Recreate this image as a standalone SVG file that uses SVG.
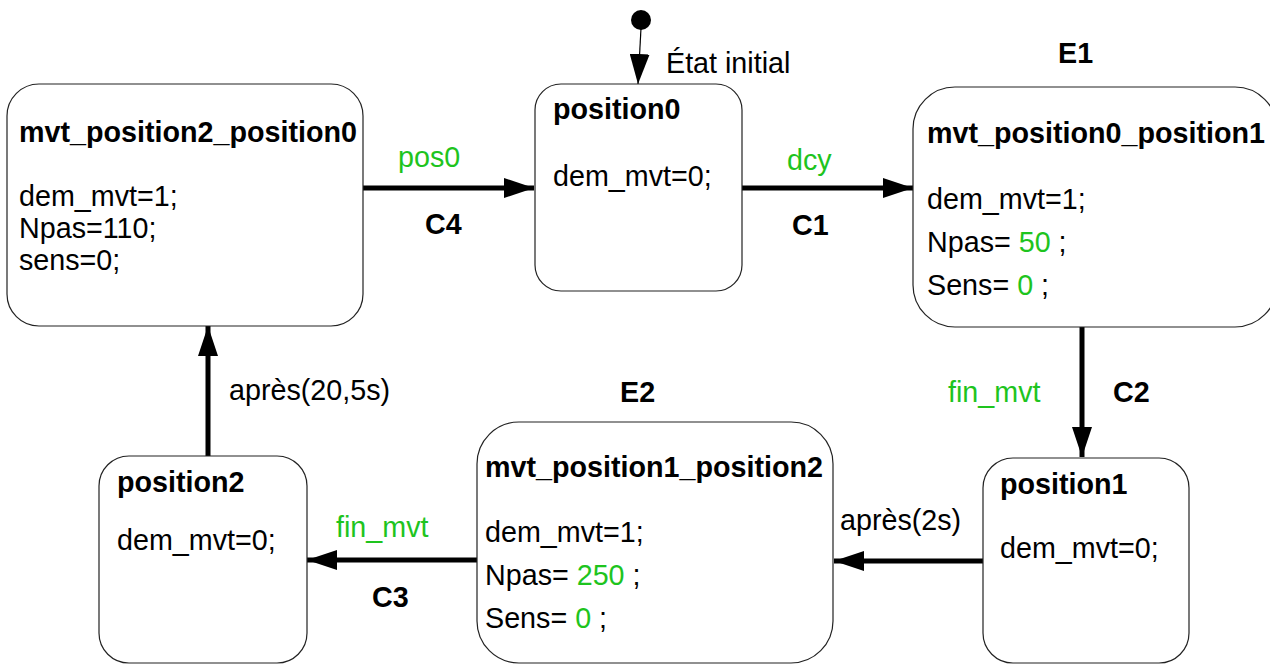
<svg xmlns="http://www.w3.org/2000/svg" width="1270" height="664" viewBox="0 0 1270 664">
<defs>
<style>
.box{fill:#fff;stroke:#222;stroke-width:1.2}
text{font-family:"Liberation Sans",Arial,sans-serif;font-size:28.7px;fill:#000}
.b{font-weight:bold}
.g{fill:#1ec41e}
.c{stroke:#000;stroke-width:5;fill:none}
</style>
<marker id="ah" viewBox="0 0 30 20" refX="30" refY="10" markerWidth="30" markerHeight="20" markerUnits="userSpaceOnUse" orient="auto">
<path d="M0,0 L30,10 L0,20 z" fill="#000"/>
</marker>
</defs>
<rect width="1270" height="664" fill="#fff"/>

<g id="connectors">
<circle cx="641" cy="20" r="10" fill="#000"/>
<line x1="641" y1="28" x2="638" y2="84" stroke="#000" stroke-width="1.2" marker-end="url(#ah)"/>
<text x="666" y="73">État initial</text>
<line class="c" x1="363" y1="188" x2="534" y2="188" marker-end="url(#ah)"/>
<text class="g" x="398" y="167">pos0</text>
<text class="b" x="425" y="234">C4</text>
<line class="c" x1="742" y1="188" x2="913" y2="188" marker-end="url(#ah)"/>
<text class="g" x="787" y="170">dcy</text>
<text class="b" x="792" y="235">C1</text>
<line class="c" x1="1082" y1="327" x2="1082" y2="457" marker-end="url(#ah)"/>
<text class="g" x="948" y="402">fin_mvt</text>
<text class="b" x="1113" y="402">C2</text>
<line class="c" x1="983" y1="561" x2="834" y2="561" marker-end="url(#ah)"/>
<text x="840" y="530">après(2s)</text>
<line class="c" x1="477" y1="560" x2="307" y2="560" marker-end="url(#ah)"/>
<text class="g" x="336" y="537">fin_mvt</text>
<text class="b" x="372" y="607">C3</text>
<line class="c" x1="208" y1="456" x2="208" y2="326" marker-end="url(#ah)"/>
<text x="229" y="400">après(20,5s)</text>
</g>

<g id="mvt_position2_position0">
<rect class="box" x="7" y="84" width="356" height="242" rx="32" ry="32"/>
<text class="b" x="19" y="142">mvt_position2_position0</text>
<text x="19" y="206">dem_mvt=1;</text>
<text x="19" y="238">Npas=110;</text>
<text x="19" y="270">sens=0;</text>
</g>

<g id="position0">
<rect class="box" x="535" y="84" width="207" height="207" rx="26" ry="26"/>
<text class="b" x="553" y="119">position0</text>
<text x="553" y="186">dem_mvt=0;</text>
</g>

<g id="mvt_position0_position1">
<text class="b" x="1058" y="63">E1</text>
<rect class="box" x="913" y="87" width="364" height="240" rx="42" ry="42"/>
<text class="b" x="927" y="143">mvt_position0_position1</text>
<text x="927" y="209">dem_mvt=1;</text>
<text x="927" y="252">Npas= <tspan class="g">50</tspan> ;</text>
<text x="927" y="295">Sens= <tspan class="g">0</tspan> ;</text>
</g>

<g id="position1">
<rect class="box" x="983" y="458" width="206" height="205" rx="30" ry="30"/>
<text class="b" x="1000" y="494">position1</text>
<text x="1000" y="558">dem_mvt=0;</text>
</g>

<g id="mvt_position1_position2">
<text class="b" x="620" y="402">E2</text>
<rect class="box" x="477" y="422" width="356" height="241" rx="42" ry="42"/>
<text class="b" x="485" y="477">mvt_position1_position2</text>
<text x="485" y="542">dem_mvt=1;</text>
<text x="485" y="585">Npas= <tspan class="g">250</tspan> ;</text>
<text x="485" y="628">Sens= <tspan class="g">0</tspan> ;</text>
</g>

<g id="position2">
<rect class="box" x="99" y="456" width="208" height="207" rx="30" ry="30"/>
<text class="b" x="117" y="492">position2</text>
<text x="117" y="550">dem_mvt=0;</text>
</g>
</svg>
